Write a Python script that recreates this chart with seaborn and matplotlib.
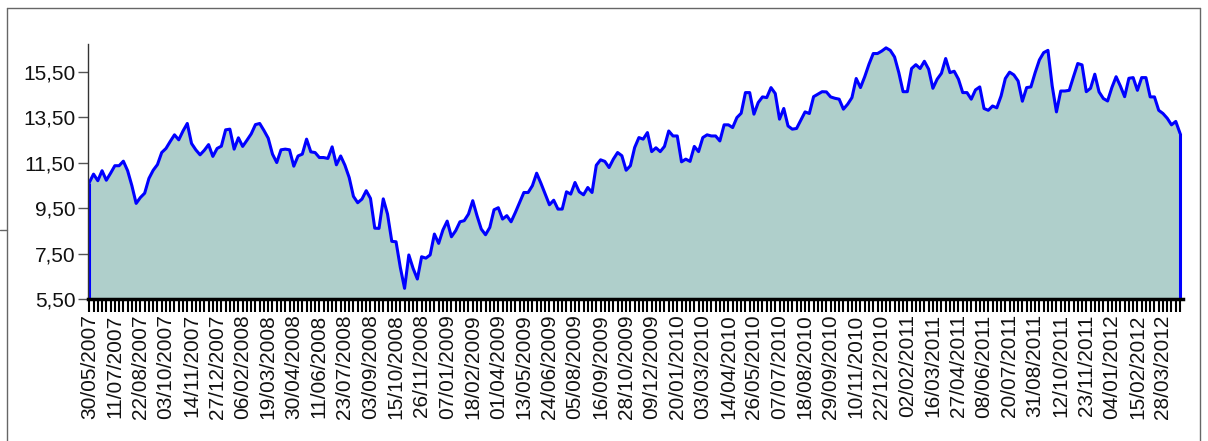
import matplotlib
matplotlib.use("Agg")
import matplotlib.pyplot as plt
import numpy as np
import pandas as pd
import seaborn as sns
from matplotlib.lines import Line2D
from matplotlib.ticker import FuncFormatter, MultipleLocator

# weekly closing values in five stretches
values_2007 = [10.63, 11.00, 10.71, 11.15, 10.73, 11.04, 11.37, 11.37, 11.57, 11.15,
               10.49, 9.71, 9.97, 10.16, 10.81, 11.17, 11.42, 11.95, 12.13, 12.44,
               12.73, 12.51, 12.90, 13.23, 12.35, 12.07, 11.85, 12.05, 12.30, 11.78,
               12.13, 12.23, 12.95, 12.98, 12.10, 12.60, 12.22, 12.49, 12.77, 13.18,
               13.23, 12.92, 12.58, 11.88, 11.51, 12.07, 12.10, 12.07, 11.35, 11.80,
               11.88, 12.54]
values_2008 = [11.98, 11.95, 11.73, 11.73, 11.69, 12.20, 11.41, 11.80, 11.39, 10.85,
               10.02, 9.74, 9.90, 10.27, 9.93, 8.62, 8.61, 9.91, 9.24, 8.04,
               8.02, 6.89, 5.97, 7.44, 6.85, 6.38, 7.36, 7.30, 7.44, 8.36,
               7.95, 8.54, 8.93, 8.24, 8.51, 8.90, 8.95, 9.24, 9.83, 9.17,
               8.58, 8.33, 8.65, 9.43, 9.52, 9.02, 9.17, 8.90, 9.31, 9.75,
               10.19]
values_2009 = [10.19, 10.49, 11.04, 10.60, 10.12, 9.65, 9.85, 9.46, 9.46, 10.22,
               10.12, 10.63, 10.22, 10.09, 10.41, 10.19, 11.39, 11.63, 11.56, 11.29,
               11.66, 11.95, 11.81, 11.17, 11.37, 12.17, 12.61, 12.54, 12.83, 11.99,
               12.16, 11.99, 12.22, 12.90, 12.68, 12.68, 11.54, 11.66, 11.56, 12.22,
               11.99, 12.61, 12.73, 12.68, 12.68, 12.46, 13.17, 13.17, 13.05, 13.49,
               13.68, 14.59]
values_2010 = [14.59, 13.64, 14.15, 14.40, 14.37, 14.81, 14.55, 13.42, 13.89, 13.12,
               12.98, 13.01, 13.37, 13.74, 13.67, 14.41, 14.52, 14.63, 14.62, 14.40,
               14.34, 14.30, 13.86, 14.08, 14.37, 15.21, 14.81, 15.29, 15.84, 16.31,
               16.31, 16.42, 16.56, 16.45, 16.16, 15.47, 14.63, 14.63, 15.65, 15.82,
               15.65, 15.97, 15.62, 14.78, 15.18, 15.44, 16.09, 15.47, 15.53, 15.18,
               14.59]
values_2011 = [14.59, 14.30, 14.71, 14.84, 13.89, 13.81, 14.00, 13.92, 14.44, 15.21,
               15.49, 15.37, 15.10, 14.21, 14.81, 14.84, 15.47, 16.03, 16.35, 16.45,
               14.88, 13.74, 14.66, 14.66, 14.69, 15.29, 15.87, 15.81, 14.63, 14.78,
               15.40, 14.62, 14.33, 14.22, 14.81, 15.29, 14.88, 14.41, 15.22, 15.25,
               14.69, 15.25, 15.25, 14.40, 14.40, 13.81, 13.67, 13.46, 13.17, 13.32,
               12.80]

tick_labels = ["30/05/2007", "11/07/2007", "22/08/2007", "03/10/2007", "14/11/2007",
               "27/12/2007", "06/02/2008", "19/03/2008", "30/04/2008", "11/06/2008",
               "23/07/2008", "03/09/2008", "15/10/2008", "26/11/2008", "07/01/2009",
               "18/02/2009", "01/04/2009", "13/05/2009", "24/06/2009", "05/08/2009",
               "16/09/2009", "28/10/2009", "09/12/2009", "20/01/2010", "03/03/2010",
               "14/04/2010", "26/05/2010", "07/07/2010", "18/08/2010", "29/09/2010",
               "10/11/2010", "22/12/2010", "02/02/2011", "16/03/2011", "27/04/2011",
               "08/06/2011", "20/07/2011", "31/08/2011", "12/10/2011", "23/11/2011",
               "04/01/2012", "15/02/2012", "28/03/2012"]
y_ticks = [5.5, 7.5, 9.5, 11.5, 13.5, 15.5]

price = values_2007 + values_2008 + values_2009 + values_2010 + values_2011
df = pd.DataFrame({"week": np.arange(len(price)), "price": price})
base = y_ticks[0]

sns.set_theme(style="white")
plt.rcParams["font.family"] = ["Liberation Sans", "DejaVu Sans"]

W, H = 1208, 441
fig = plt.figure(figsize=(W / 100, H / 100), dpi=100)
ax = fig.add_axes([88 / W, 1 - 299 / H, 1095 / W, 255 / H])

ax.fill_between(df["week"], base, df["price"], color="#afcfcb", lw=0)
sns.lineplot(data=df, x="week", y="price", ax=ax, color="#0000ff", lw=2.2)
ax.vlines([df["week"].iloc[0], df["week"].iloc[-1]], base,
          [df["price"].iloc[0], df["price"].iloc[-1]], color="#0000ff", lw=2.2)

ax.set_xlim(-0.3, len(price) - 0.3)
ax.set_ylim(base, 16.73)
ax.set_xlabel("")
ax.set_ylabel("")

ax.set_xticks(range(0, 6 * len(tick_labels), 6))
ax.set_xticklabels(tick_labels, rotation=90, fontsize=15, color="#111")
ax.xaxis.set_minor_locator(MultipleLocator(1))
ax.tick_params(axis="x", which="both", bottom=True, length=9, width=1.5,
               color="black", direction="out", pad=2)

ax.set_yticks(y_ticks)
ax.yaxis.set_major_formatter(FuncFormatter(lambda v, p: f"{v:.2f}".replace(".", ",")))
ax.tick_params(axis="y", left=True, length=7, width=1, color="#555",
               labelsize=15, labelcolor="#111", pad=2)

for side in ["top", "right"]:
    ax.spines[side].set_visible(False)
ax.spines["bottom"].set_color("black")
ax.spines["bottom"].set_linewidth(2.5)
ax.spines["left"].set_color("#333")
ax.spines["left"].set_linewidth(1)

# outer frame
fx0, fx1, fy = 7 / W, 1200 / W, 1 - 8 / H
for xs, ys in [([fx0, fx0], [0, fy]), ([fx0, fx1], [fy, fy]), ([fx1, fx1], [0, fy]),
               ([0, fx0], [1 - 230 / H, 1 - 230 / H])]:
    fig.add_artist(Line2D(xs, ys, transform=fig.transFigure, color="#666", lw=1))

fig.savefig("out.png", dpi=100)
plt.close(fig)
